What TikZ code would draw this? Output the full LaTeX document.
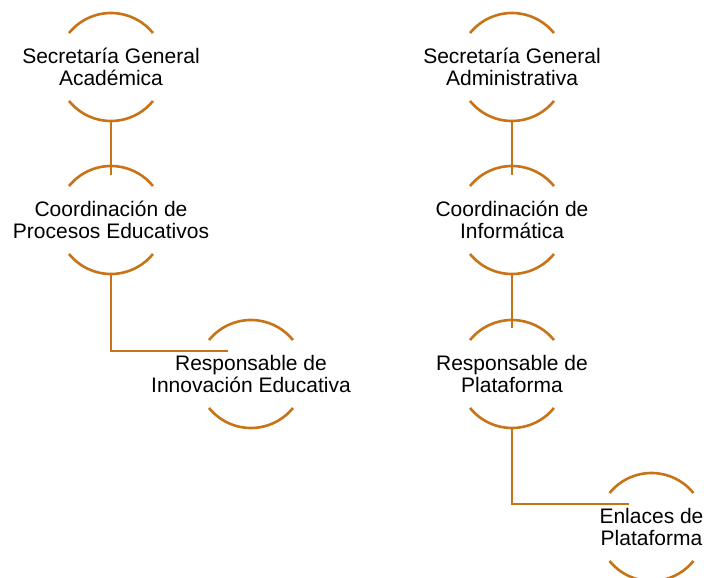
\documentclass[tikz,border=0pt]{standalone}
\usepackage{fontspec}
\setmainfont{Liberation Sans}
\definecolor{orgline}{RGB}{200,115,22}
\begin{document}
\begin{tikzpicture}[x=1pt,y=1pt,
  arcline/.style={draw=orgline,line width=2.6pt},
  conn/.style={draw=orgline,line width=2.6pt},
  unit/.style={align=center,inner sep=0pt,font=\fontsize{21}{22}\selectfont}]
\useasboundingbox (0,0) rectangle (704,-578);
\node[unit] (a) at (111,-67) {Secretaría General\\Académica};
\node[unit] (b) at (111,-220) {Coordinación de\\Procesos Educativos};
\node[unit] (c) at (251,-374) {Responsable de\\Innovación Educativa};
\node[unit] (d) at (512,-67) {Secretaría General\\Administrativa};
\node[unit] (e) at (512,-220) {Coordinación de\\Informática};
\node[unit] (f) at (512,-374) {Responsable de\\Plataforma};
\node[unit] (g) at (651.5,-527) {Enlaces de\\Plataforma};
\foreach \n in {a,b,c,d,e,f,g}{
  \draw[arcline] (\n.center) ++(141:54) arc[start angle=141,end angle=39,radius=54];
  \draw[arcline] (\n.center) ++(219:54) arc[start angle=219,end angle=321,radius=54];
}
\draw[conn] ([yshift=-54pt]a.center) -- ([yshift=45pt]b.center);
\draw[conn] ([yshift=-54pt]b.center) |- ([shift={(-23pt,23pt)}]c.center);
\draw[conn] ([yshift=-54pt]d.center) -- ([yshift=45pt]e.center);
\draw[conn] ([yshift=-54pt]e.center) -- ([yshift=46pt]f.center);
\draw[conn] ([yshift=-54pt]f.center) |- ([shift={(-22.5pt,23pt)}]g.center);
\end{tikzpicture}
\end{document}
